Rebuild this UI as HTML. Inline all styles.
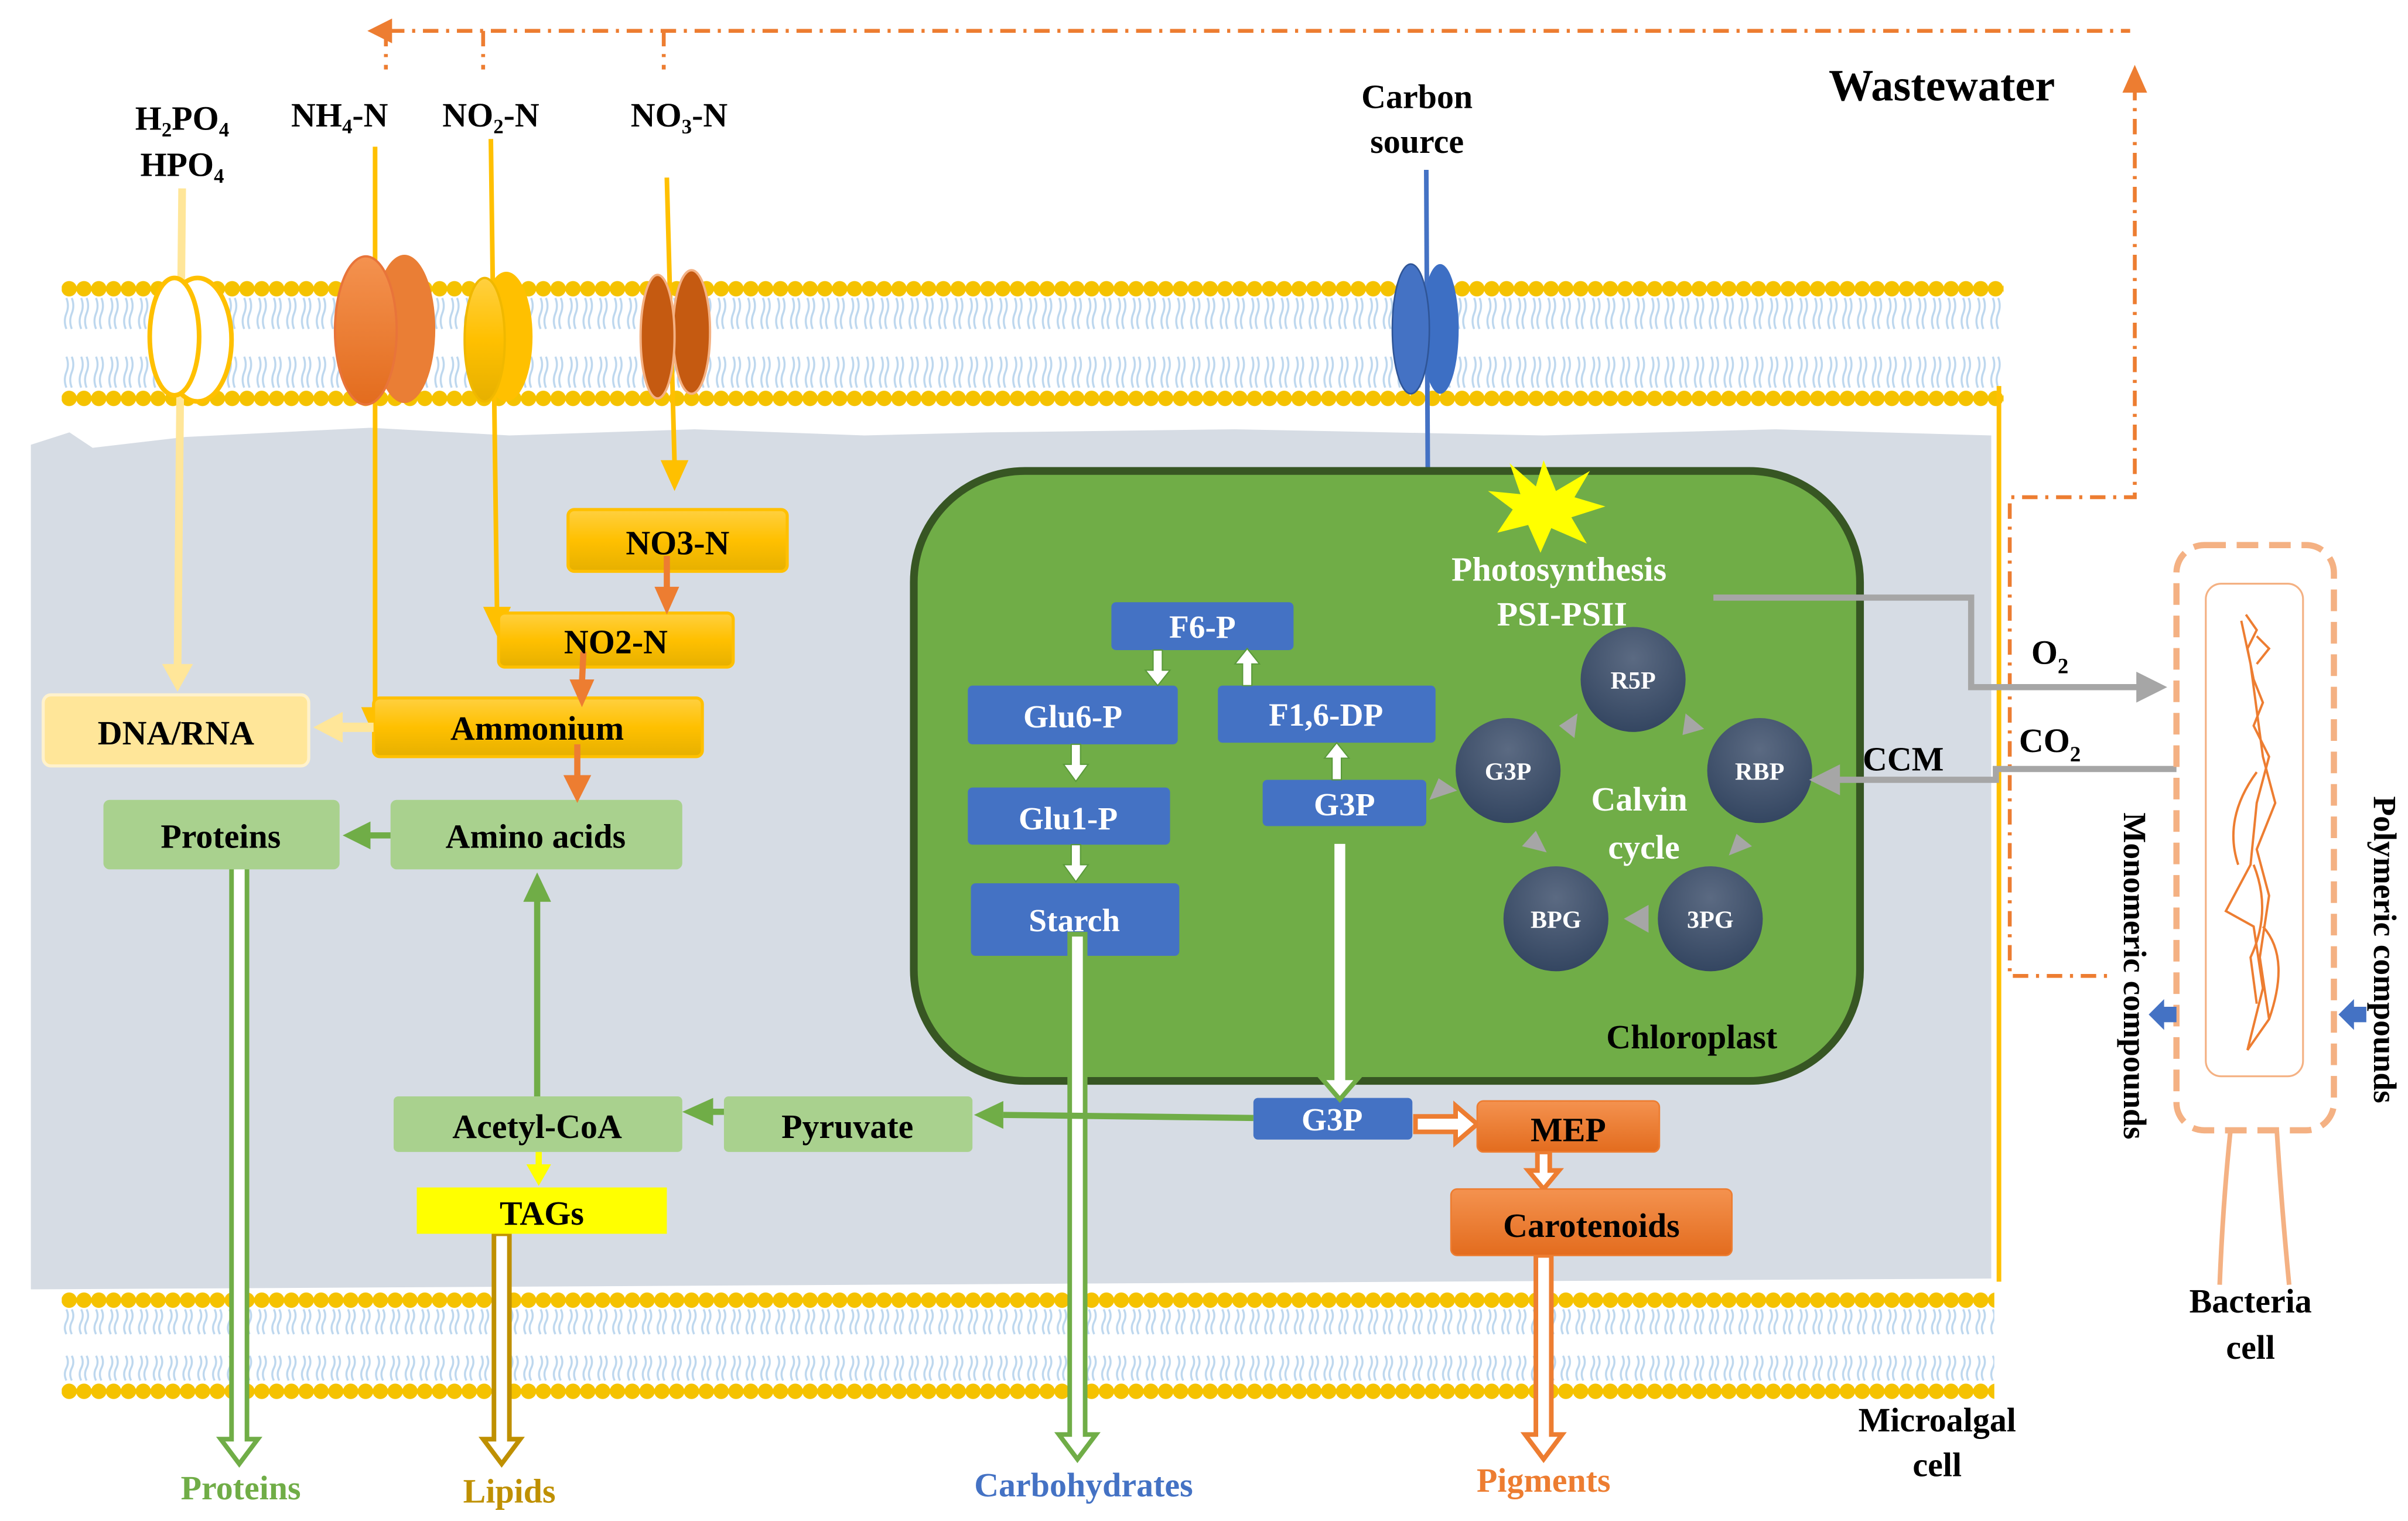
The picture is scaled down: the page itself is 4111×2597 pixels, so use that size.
<!DOCTYPE html>
<html><head><meta charset="utf-8"><style>
html,body{margin:0;padding:0;background:#fff;}
svg{display:block;}
text{font-family:"Liberation Serif",serif;font-weight:bold;}
</style></head><body>
<svg width="4111" height="2597" viewBox="0 0 1560 985" preserveAspectRatio="none" xmlns="http://www.w3.org/2000/svg">
<defs>
<pattern id="memT" patternUnits="userSpaceOnUse" x="40" y="181" width="9.6" height="84">
<path d="M3 12 q2 5 0 10 q-2 5 0 10 M6.5 12 q2 5 0 10 q-2 5 0 10 M3 50 q2 5 0 10 q-2 5 0 10 M6.5 50 q2 5 0 10 q-2 5 0 10" fill="none" stroke="#bdd7ee" stroke-width="1.3"/>
<circle cx="4.8" cy="6" r="5" fill="#f5c200"/><circle cx="4.8" cy="77" r="5" fill="#f5c200"/>
</pattern>
<pattern id="memB" patternUnits="userSpaceOnUse" x="40" y="836" width="9.6" height="72">
<path d="M3 12 q2 4 0 8 q-2 4 0 8 M6.5 12 q2 4 0 8 q-2 4 0 8 M3 42 q2 4 0 8 q-2 4 0 8 M6.5 42 q2 4 0 8 q-2 4 0 8" fill="none" stroke="#bdd7ee" stroke-width="1.3"/>
<circle cx="4.8" cy="6" r="5" fill="#f5c200"/><circle cx="4.8" cy="65" r="5" fill="#f5c200"/>
</pattern>
<linearGradient id="yel" x1="0" y1="0" x2="0" y2="1"><stop offset="0" stop-color="#ffd040"/><stop offset="0.5" stop-color="#ffc000"/><stop offset="1" stop-color="#e6b000"/></linearGradient>
<linearGradient id="org" x1="0" y1="0" x2="0" y2="1"><stop offset="0" stop-color="#f4924f"/><stop offset="1" stop-color="#e36c1e"/></linearGradient>
<radialGradient id="ball" cx="0.5" cy="0.3" r="0.7"><stop offset="0" stop-color="#5b6a82"/><stop offset="1" stop-color="#344661"/></radialGradient>
</defs>

<!-- cytoplasm -->
<path d="M20 288 L45 280 L60 290 L120 283 L240 277 L330 282 L450 278 L560 282 L640 280 L800 278 L1000 282 L1150 278 L1290 282 L1290 828 L20 835 Z" fill="#d6dce4"/>

<!-- membranes -->
<rect x="40" y="181" width="1258" height="84" fill="url(#memT)"/>
<rect x="40" y="836" width="1252" height="72" fill="url(#memB)"/>
<line x1="1295" y1="250" x2="1295" y2="830" stroke="#ffc000" stroke-width="3"/>

<!-- wastewater dashdot -->
<g stroke="#ed7d31" stroke-width="2.5" fill="none" stroke-dasharray="10 5 2 5">
<line x1="252" y1="20" x2="1380" y2="20"/>
<line x1="250" y1="20" x2="250" y2="45"/><line x1="313" y1="20" x2="313" y2="45"/><line x1="430" y1="20" x2="430" y2="45"/>
<path d="M1383 55 L1383 322 L1302 322 L1302 632 L1370 632"/>
</g>
<polygon points="238,20 254,12 254,28" fill="#ed7d31"/>
<polygon points="1383,42 1375,60 1391,60" fill="#ed7d31"/>
<text x="1258" y="65" font-size="29" text-anchor="middle">Wastewater</text>

<!-- top labels -->
<g font-size="22" text-anchor="middle">
<text x="118" y="84">H₂PO₄</text><text x="118" y="114">HPO₄</text>
<text x="220" y="82">NH₄-N</text><text x="318" y="82">NO₂-N</text><text x="440" y="82">NO₃-N</text>
<text x="918" y="70">Carbon</text><text x="918" y="99">source</text>
</g>

<!-- vertical feed lines -->
<line x1="118" y1="122" x2="115" y2="435" stroke="#ffe699" stroke-width="5"/>
<polygon points="105,430 125,430 115,448" fill="#ffe699"/>
<line x1="243" y1="95" x2="243" y2="462" stroke="#ffc000" stroke-width="3"/>
<polygon points="234,458 252,458 243,478" fill="#ffc000"/>
<line x1="318" y1="90" x2="322" y2="397" stroke="#ffc000" stroke-width="3"/>
<polygon points="313,393 331,393 322,412" fill="#ffc000"/>
<line x1="432" y1="115" x2="437" y2="300" stroke="#ffc000" stroke-width="3"/>
<polygon points="428,298 446,298 437,318" fill="#ffc000"/>
<line x1="924" y1="110" x2="925" y2="310" stroke="#4472c4" stroke-width="3"/>
<polygon points="916,308 934,308 925,327" fill="#4472c4"/>

<!-- transporters -->
<ellipse cx="128" cy="220" rx="22" ry="40" fill="#fff" stroke="#ffc000" stroke-width="3"/>
<ellipse cx="113" cy="218" rx="16" ry="38" fill="#fff" stroke="#ffc000" stroke-width="3"/>
<ellipse cx="262" cy="213" rx="20" ry="48" fill="#ea7e35"/>
<ellipse cx="237" cy="214" rx="20" ry="48" fill="url(#org)" stroke="#e8743a" stroke-width="1.5"/>
<ellipse cx="328" cy="218" rx="17" ry="42" fill="#ffc000"/>
<ellipse cx="314" cy="220" rx="13" ry="40" fill="url(#yel)" stroke="#f0b800" stroke-width="1.5"/>
<ellipse cx="448" cy="215" rx="12" ry="40" fill="#c55a11" stroke="#f4b183" stroke-width="1.5"/>
<ellipse cx="426" cy="218" rx="11" ry="40" fill="#c55a11" stroke="#f4b183" stroke-width="1.5"/>
<ellipse cx="933" cy="213" rx="12" ry="42" fill="#3d6fc4"/>
<ellipse cx="914" cy="213" rx="12" ry="42" fill="#4472c4" stroke="#2f5597" stroke-width="1"/>

<!-- chloroplast -->
<rect x="592" y="305" width="613" height="395" rx="72" fill="#70ad47" stroke="#375623" stroke-width="5"/>
<polygon points="1000,298 1008,318 1030,305 1020,322 1040,328 1018,335 1028,352 1005,342 998,358 990,340 970,345 980,330 964,318 985,320 978,300 995,315" fill="#ffff00"/>
<g font-size="22" fill="#fff" text-anchor="middle">
<text x="1010" y="376">Photosynthesis</text><text x="1012" y="405">PSI-PSII</text>
<text x="1062" y="525">Calvin</text><text x="1065" y="556">cycle</text>
</g>
<text x="1096" y="679" font-size="22" text-anchor="middle">Chloroplast</text>

<!-- calvin circles -->
<g font-size="16" fill="#fff" text-anchor="middle">
<circle cx="1058" cy="440" r="34" fill="url(#ball)"/><text x="1058" y="446">R5P</text>
<circle cx="1140" cy="499" r="34" fill="url(#ball)"/><text x="1140" y="505">RBP</text>
<circle cx="1108" cy="595" r="34" fill="url(#ball)"/><text x="1108" y="601">3PG</text>
<circle cx="1008" cy="595" r="34" fill="url(#ball)"/><text x="1008" y="601">BPG</text>
<circle cx="977" cy="499" r="34" fill="url(#ball)"/><text x="977" y="505">G3P</text>
</g>
<g fill="#a6a6a6">
<polygon points="1010,470 1022,462 1020,478"/><polygon points="1092,462 1104,472 1090,476"/>
<polygon points="1125,540 1135,548 1120,554"/><polygon points="1052,595 1068,586 1068,604"/>
<polygon points="986,548 995,538 1002,552"/><polygon points="926,518 932,504 944,512"/>
</g>

<!-- blue boxes -->
<g fill="#4472c4">
<rect x="720" y="390" width="118" height="31" rx="3"/>
<rect x="627" y="444" width="136" height="38" rx="3"/>
<rect x="789" y="444" width="141" height="37" rx="3"/>
<rect x="818" y="505" width="106" height="30" rx="3"/>
<rect x="627" y="510" width="131" height="37" rx="3"/>
<rect x="629" y="572" width="135" height="47" rx="3"/>
<rect x="812" y="711" width="103" height="27" rx="3"/>
</g>
<g font-size="21" fill="#fff" text-anchor="middle">
<text x="779" y="413">F6-P</text><text x="695" y="471">Glu6-P</text><text x="859" y="470">F1,6-DP</text>
<text x="871" y="528">G3P</text><text x="692" y="537">Glu1-P</text><text x="696" y="603">Starch</text>
<text x="863" y="732">G3P</text>
</g>
<!-- white small arrows -->
<g fill="#fff" stroke="#5a9a3a" stroke-width="0.8">
<polygon points="747,421 753,421 753,434 758,434 750,444 742,434 747,434"/>
<polygon points="805,444 811,444 811,430 816,430 808,420 800,430 805,430"/>
<polygon points="694,482 700,482 700,495 705,495 697,506 689,495 694,495"/>
<polygon points="694,547 700,547 700,560 705,560 697,571 689,560 694,560"/>
<polygon points="863,505 869,505 869,491 874,491 866,481 858,491 863,491"/>
</g>

<!-- hollow arrows -->
<g fill="#fff" stroke-width="3">
<polygon points="863,545 873,545 873,698 880,698 868,712 856,698 863,698" stroke="#70ad47"/>
<polygon points="150,557 160,557 160,932 167,932 155,948 143,932 150,932" stroke="#70ad47"/>
<polygon points="320,799 330,799 330,932 337,932 325,948 313,932 320,932" stroke="#bf9000"/>
<polygon points="693,605 703,605 703,929 710,929 698,945 686,929 693,929" stroke="#70ad47"/>
<polygon points="995,813 1005,813 1005,929 1012,929 1000,945 988,929 995,929" stroke="#ed7d31"/>
<polygon points="917,723 943,723 943,716 957,728 943,740 943,733 917,733" stroke="#ed7d31"/>
<polygon points="996,746 1004,746 1004,758 1010,758 1000,770 990,758 996,758" stroke="#ed7d31"/>
</g>

<!-- yellow boxes -->
<g fill="url(#yel)" stroke="#ffc000" stroke-width="2">
<rect x="368" y="330" width="142" height="40" rx="4"/>
<rect x="323" y="397" width="152" height="35" rx="4"/>
<rect x="242" y="452" width="213" height="38" rx="4"/>
</g>
<rect x="28" y="450" width="172" height="46" rx="5" fill="#ffe699" stroke="#fff2cc" stroke-width="2"/>
<g fill="#a9d18e">
<rect x="67" y="518" width="153" height="45" rx="4"/>
<rect x="253" y="518" width="189" height="45" rx="4"/>
<rect x="255" y="710" width="187" height="36" rx="3"/>
<rect x="469" y="710" width="161" height="36" rx="3"/>
</g>
<rect x="270" y="769" width="162" height="30" fill="#ffff00"/>
<rect x="957" y="713" width="118" height="33" rx="4" fill="url(#org)" stroke="#ed7d31"/>
<rect x="940" y="770" width="182" height="43" rx="4" fill="url(#org)" stroke="#ed7d31"/>

<!-- pathway arrows -->
<line x1="432" y1="360" x2="432" y2="382" stroke="#ed7d31" stroke-width="4"/>
<polygon points="424,380 440,380 432,398" fill="#ed7d31"/>
<line x1="378" y1="422" x2="377" y2="442" stroke="#ed7d31" stroke-width="4"/>
<polygon points="369,440 385,440 377,458" fill="#ed7d31"/>
<line x1="374" y1="482" x2="374" y2="505" stroke="#ed7d31" stroke-width="4"/>
<polygon points="365,502 383,502 374,520" fill="#ed7d31"/>
<line x1="242" y1="471" x2="220" y2="471" stroke="#ffe699" stroke-width="6"/>
<polygon points="203,471 222,461 222,481" fill="#ffe699"/>
<line x1="253" y1="541" x2="240" y2="541" stroke="#70ad47" stroke-width="4"/>
<polygon points="222,541 240,532 240,550" fill="#70ad47"/>
<line x1="348" y1="710" x2="348" y2="582" stroke="#70ad47" stroke-width="4"/>
<polygon points="339,584 357,584 348,565" fill="#70ad47"/>
<line x1="469" y1="720" x2="460" y2="720" stroke="#70ad47" stroke-width="4"/>
<polygon points="442,720 462,711 462,729" fill="#70ad47"/>
<line x1="812" y1="724" x2="650" y2="722" stroke="#70ad47" stroke-width="4"/>
<polygon points="631,722 650,713 650,731" fill="#70ad47"/>
<line x1="349" y1="746" x2="349" y2="756" stroke="#ffff00" stroke-width="4"/>
<polygon points="341,754 357,754 349,768" fill="#ffff00"/>

<g font-size="22" text-anchor="middle">
<text x="439" y="359">NO3-N</text><text x="399" y="423">NO2-N</text><text x="348" y="479">Ammonium</text>
<text x="114" y="482">DNA/RNA</text><text x="143" y="549">Proteins</text><text x="347" y="549">Amino acids</text>
<text x="348" y="737">Acetyl-CoA</text><text x="549" y="737">Pyruvate</text><text x="351" y="793">TAGs</text>
<text x="1016" y="739">MEP</text><text x="1031" y="801">Carotenoids</text>
</g>

<!-- gas exchange -->
<path d="M1110 387 L1277 387 L1277 445 L1385 445" fill="none" stroke="#a6a6a6" stroke-width="4"/>
<polygon points="1404,445 1384,435 1384,455" fill="#a6a6a6"/>
<path d="M1410 498 L1293 498 L1293 505 L1190 505" fill="none" stroke="#a6a6a6" stroke-width="4"/>
<polygon points="1172,505 1192,495 1192,515" fill="#a6a6a6"/>
<g font-size="22" text-anchor="middle">
<text x="1328" y="430">O<tspan font-size="14" dy="6">2</tspan></text>
<text x="1328" y="487">CO<tspan font-size="14" dy="6">2</tspan></text>
<text x="1233" y="499">CCM</text>
<text x="1255" y="927">Microalgal</text><text x="1255" y="956">cell</text>
<text x="1458" y="850">Bacteria</text><text x="1458" y="880">cell</text>
</g>

<!-- bacteria -->
<rect x="1410" y="353" width="102" height="379" rx="18" fill="none" stroke="#f4b183" stroke-width="4" stroke-dasharray="14 7"/>
<rect x="1429" y="378" width="63" height="319" rx="10" fill="none" stroke="#f4b183" stroke-width="1.2"/>
<path d="M1445 732 Q1440 780 1438 832 M1475 732 Q1478 780 1483 832" fill="none" stroke="#f4b183" stroke-width="3"/>
<path d="M1455 398 L1462 408 L1456 420 L1460 440 L1466 455 L1460 470 L1470 490 L1462 520 L1458 560 L1442 590 L1460 600 L1466 640 L1456 680 L1470 660 L1464 620 L1470 580 L1462 550 L1474 520 L1466 490 L1462 460 L1458 430 L1452 402 M1462 430 L1470 420 L1462 412 M1462 500 Q1440 530 1450 560 M1466 600 Q1484 620 1470 660 M1460 560 Q1472 590 1458 620 L1462 650" fill="none" stroke="#ed7d31" stroke-width="1.5"/>
<text transform="translate(1376,632) rotate(90)" font-size="21" text-anchor="middle">Monomeric compounds</text>
<text transform="translate(1538,615) rotate(90)" font-size="21" text-anchor="middle">Polymeric compounds</text>
<polygon points="1392,657 1402,647 1402,652 1410,652 1410,662 1402,662 1402,667" fill="#4472c4"/>
<polygon points="1515,657 1525,647 1525,652 1533,652 1533,662 1525,662 1525,667" fill="#4472c4"/>

<!-- bottom labels -->
<g font-size="22" text-anchor="middle">
<text x="156" y="971" fill="#70ad47">Proteins</text>
<text x="330" y="973" fill="#bf9000">Lipids</text>
<text x="702" y="969" fill="#4472c4">Carbohydrates</text>
<text x="1000" y="966" fill="#ed7d31">Pigments</text>
</g>
</svg>
</body></html>
